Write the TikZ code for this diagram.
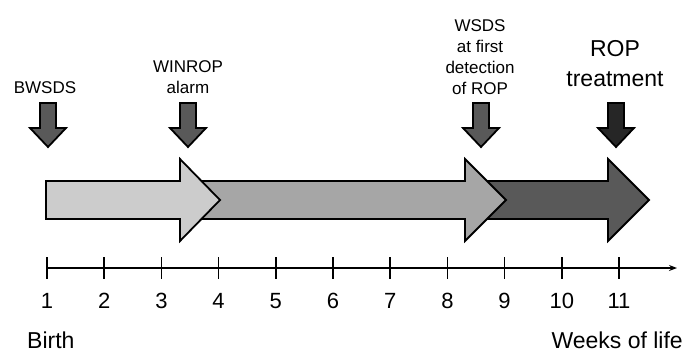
\documentclass[tikz,border=0pt]{standalone}
\usepackage{fontspec}
\setmainfont{Liberation Sans}
\usetikzlibrary{arrows.meta}
\tikzset{
  smalllbl/.style={font=\fontsize{17}{21}\selectfont, align=center, inner sep=0pt},
  biglbl/.style={font=\fontsize{23}{30}\selectfont, align=center, inner sep=0pt},
  numlbl/.style={font=\fontsize{22}{25}\selectfont, inner sep=0pt},
  botlbl/.style={font=\fontsize{23}{25}\selectfont, inner sep=0pt},
  outl/.style={draw=black, line width=1.8pt, line join=miter},
}
\newcommand{\downarr}[2]{%
  \draw[outl, fill=#2] (#1-8,103) -- (#1+8,103) -- (#1+8,128) -- (#1+18,128)
     -- (#1,147) -- (#1-18,128) -- (#1-8,128) -- cycle;}
\newcommand{\bigarr}[4]{%
  \draw[outl, fill=#4] (#1,181) -- (#2,181) -- (#2,159) -- (#3,200)
     -- (#2,241) -- (#2,219) -- (#1,219) -- cycle;}
\begin{document}
\begin{tikzpicture}[x=1pt,y=-1pt]
\useasboundingbox (0,0) rectangle (685,354);
% big arrows
\bigarr{480}{608}{649}{black!65}
\bigarr{200}{465}{506}{black!35}
\bigarr{46}{180}{220}{black!20}
% small arrows
\downarr{48}{black!65}
\downarr{188}{black!65}
\downarr{481}{black!65}
\downarr{616}{black!85}
% labels
\node[smalllbl] (bw) at (45,88) {BWSDS};
\node[smalllbl, anchor=south] (wi) at (188,94) {WINROP\\alarm};
\node[smalllbl, anchor=south] (ws) at (480,95) {WSDS\\at first\\detection\\of ROP};
\node[biglbl, anchor=south] (rop) at (615,87) {ROP\\treatment};
% axis
\coordinate (a0) at (47,268);
\coordinate (a1) at (677,268);
\draw[line width=1.5pt, -{Stealth[length=8pt,width=6pt]}] (a0) -- (a1);
\foreach \i in {1,...,11}{
  \pgfmathsetmacro{\xx}{47+57.2*(\i-1)}
  \draw[line width=1.5pt] (\xx,257) -- (\xx,279);
  \node[numlbl] (n\i) at (\xx,301) {\i};
}
\node[botlbl, anchor=west] (birth) at (27,340) {Birth};
\node[botlbl, anchor=east] (weeks) at (683,340) {Weeks of life};
\end{tikzpicture}
\end{document}
